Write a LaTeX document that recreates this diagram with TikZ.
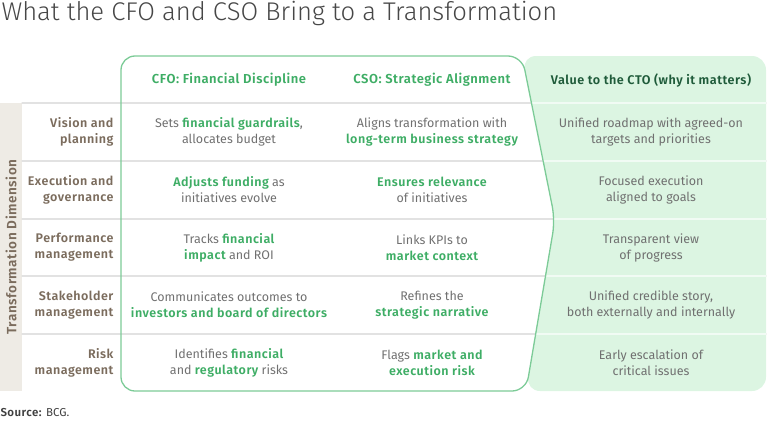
\documentclass[tikz,border=0pt]{standalone}
\usepackage{fontspec}
\setmainfont{Fira Sans}[BoldFont={Fira Sans SemiBold}, BoldFeatures={LetterSpace=4}]
\newfontfamily\titlefont{Fira Sans Light}
\definecolor{accent}{HTML}{3EAD65}
\definecolor{outline}{HTML}{7CCB97}
\definecolor{valfill}{HTML}{DCF5E2}
\definecolor{valdark}{HTML}{1F5B3A}
\definecolor{bodygray}{HTML}{707070}
\definecolor{labbrown}{HTML}{7B6C5D}
\definecolor{strip}{HTML}{EEEBE5}
\definecolor{rulegray}{HTML}{E2E2E2}
\newcommand\hl[1]{\textcolor{accent}{\bfseries #1}}
\begin{document}
\begin{tikzpicture}[x=1pt, y=-1pt, line join=round, line cap=round,
	cell/.style={align=center, text=bodygray, font=\fontsize{12.5}{16}\selectfont},
	lab/.style={align=right, anchor=east, text=labbrown, font=\fontsize{12.5}{16}\selectfont\bfseries},
	head/.style={text=accent, font=\fontsize{13}{16}\selectfont\bfseries}]
	\useasboundingbox (0,0) rectangle (768,423);
	\def\valpath{(766,220) -- (766,391) -- (526,391) -- (555,220) -- (522,56) -- (766,56) -- cycle}
	% title and source
	\node[anchor=west, text=black!72, font=\fontsize{25.6}{30}\selectfont\titlefont] (title) at (-2,13) {What the CFO and CSO Bring to a Transformation};
	\node[anchor=west, text=black!75, font=\fontsize{11.5}{13}\selectfont] (src) at (-3,413) {\textbf{Source:} BCG.};
	% side strip
	\fill[strip] (0,103) rectangle (22,391);
	\node[rotate=90, text=labbrown, font=\fontsize{13.5}{15}\selectfont\bfseries\addfontfeatures{LetterSpace=9}] (dim) at (11,247) {Transformation Dimension};
	% row rules
	\foreach \y in {103,161,219,276,334} \draw[rulegray, line width=1.2pt] (22,\y) -- (766,\y);
	\fill[valfill, rounded corners=14] \valpath;
	\begin{scope}
		\clip[rounded corners=14] \valpath;
		\foreach \y in {103,161,219,276,334} \draw[white!60!valfill, line width=1.4pt] (500,\y) -- (766,\y);
	\end{scope}
	\draw[outline, line width=1.3pt, rounded corners=14] (121,220) -- (121,56) -- (522,56) -- (555,220) -- (526,391) -- (121,391) -- cycle;
	% header
	\node[head] (cfo) at (229,80) {CFO: Financial Discipline};
	\node[head] (cso) at (432,80) {CSO: Strategic Alignment};
	\node[head, text=valdark, font=\fontsize{12.6}{16}\selectfont\bfseries] (val) at (651,80) {Value to the CTO (why it matters)};
	% row labels
	\node[lab] (vis-lab) at (117,132) {Vision and\\planning};
	\node[lab] (exe-lab) at (117,190) {Execution and\\governance};
	\node[lab] (perf-lab) at (117,247.5) {Performance\\management};
	\node[lab] (stake-lab) at (117,305) {Stakeholder\\management};
	\node[lab] (risk-lab) at (117,362.5) {Risk\\management};
	% CFO column
	\node[cell] (vis-cfo) at (229,132) {Sets \hl{financial guardrails},\\allocates budget};
	\node[cell] (exe-cfo) at (229,190) {\hl{Adjusts funding} as\\initiatives evolve};
	\node[cell] (perf-cfo) at (229,247.5) {Tracks \hl{financial}\\\hl{impact} and ROI};
	\node[cell] (stake-cfo) at (229,305) {Communicates outcomes to\\\hl{investors and board of directors}};
	\node[cell] (risk-cfo) at (229,362.5) {Identifies \hl{financial}\\and \hl{regulatory} risks};
	% CSO column
	\node[cell] (vis-cso) at (432,132) {Aligns transformation with\\\hl{long-term business strategy}};
	\node[cell] (exe-cso) at (432,190) {\hl{Ensures relevance}\\of initiatives};
	\node[cell] (perf-cso) at (432,247.5) {Links KPIs to\\\hl{market context}};
	\node[cell] (stake-cso) at (432,305) {Refines the\\\hl{strategic narrative}};
	\node[cell] (risk-cso) at (432,362.5) {Flags \hl{market and}\\\hl{execution risk}};
	% value column
	\node[cell] (vis-val) at (651,132) {Unified roadmap with agreed-on\\targets and priorities};
	\node[cell] (exe-val) at (651,190) {Focused execution\\aligned to goals};
	\node[cell] (perf-val) at (651,247.5) {Transparent view\\of progress};
	\node[cell] (stake-val) at (651,305) {Unified credible story,\\both externally and internally};
	\node[cell] (risk-val) at (651,362.5) {Early escalation of\\critical issues};
\end{tikzpicture}
\end{document}
